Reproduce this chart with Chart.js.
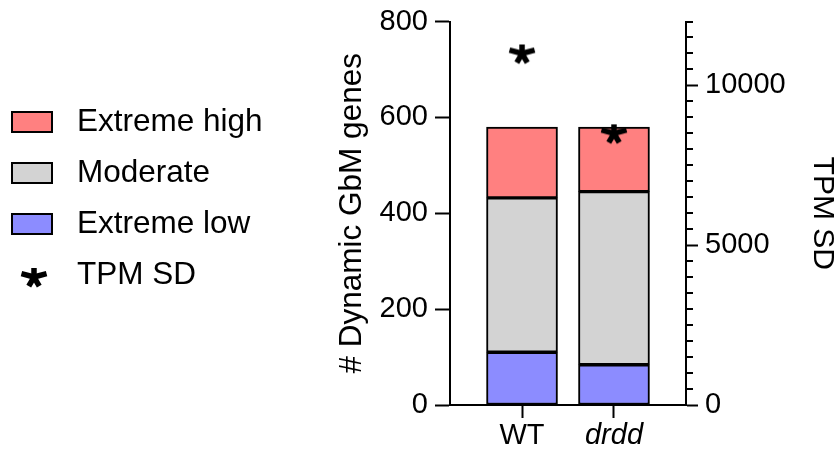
<!DOCTYPE html>
<html>
<head>
<meta charset="utf-8">
<script src="https://cdn.jsdelivr.net/npm/chart.js@4"></script>
<style>
  body { margin: 0; background: #fff; }
</style>
</head>
<body>
<canvas id="gbmChart" width="840" height="452"></canvas>
<script>
// categories and values
const categories = ['WT', 'drdd'];
const extremeLow = [110, 84];
const moderate = [322, 361];
const extremeHigh = [148, 135];
const tpmSd = [11000, 8500];

const geneTicks = [0, 200, 400, 600, 800];
const tpmTicks = [0, 5000, 10000];
const tpmMinorStep = 500;

const FONT = '"Liberation Sans", Arial, Helvetica, sans-serif';
const colors = {
    high: '#ff8080',
    moderate: '#d3d3d3',
    low: '#8c8cff'
};

// bold five-armed asterisk used as point style
const makeAsterisk = () => {
    const c = document.createElement('canvas');
    c.width = 32;
    c.height = 32;
    const g = c.getContext('2d');
    g.strokeStyle = '#000';
    g.lineWidth = 5.5;
    g.lineCap = 'butt';
    const cx = 16, cy = 16;
    // [angle, arm length]
    [[-90, 9], [-15, 13], [-165, 13], [60, 10.5], [120, 10.5]].forEach(([deg, len]) => {
        const a = deg * Math.PI / 180;
        g.beginPath();
        g.moveTo(cx, cy);
        g.lineTo(cx + Math.cos(a) * len, cy + Math.sin(a) * len);
        g.stroke();
    });
    return c;
};
const asterisk = makeAsterisk();

const toPoints = values => values.map((v, i) => ({ x: i, y: v }));

const barDataset = (label, values, color) => ({
    type: 'bar',
    label: label,
    data: toPoints(values),
    yAxisID: 'y',
    backgroundColor: color,
    borderColor: '#000',
    borderWidth: 2,
    borderSkipped: false,
    barThickness: 71
});

// legend drawn on the left side
const sideLegend = {
    id: 'sideLegend',
    afterDraw(chart) {
        const ctx = chart.ctx;
        const order = [2, 1, 0, 3];
        ctx.save();
        ctx.font = '31.5px ' + FONT;
        ctx.textBaseline = 'middle';
        order.forEach((idx, row) => {
            const ds = chart.data.datasets[idx];
            const cy = 122 + row * 51;
            if (ds.type === 'bar') {
                ctx.fillStyle = ds.backgroundColor;
                ctx.fillRect(12, cy - 10, 40, 20);
                ctx.strokeStyle = '#000';
                ctx.lineWidth = 2;
                ctx.strokeRect(12, cy - 10, 40, 20);
            } else {
                ctx.drawImage(asterisk, 34 - asterisk.width / 2, cy + 2 - asterisk.height / 2);
            }
            ctx.fillStyle = '#000';
            ctx.fillText(ds.label, 77, cy);
        });
        ctx.restore();
    }
};

// short minor ticks on the TPM axis
const minorTicks = {
    id: 'minorTicks',
    afterDraw(chart) {
        const scale = chart.scales.y1;
        const ctx = chart.ctx;
        ctx.save();
        ctx.strokeStyle = '#000';
        ctx.lineWidth = 2;
        for (let v = 0; v <= scale.max; v += tpmMinorStep) {
            if (tpmTicks.includes(v)) continue;
            const y = Math.round(scale.getPixelForValue(v));
            ctx.beginPath();
            ctx.moveTo(scale.left, y);
            ctx.lineTo(scale.left + 7, y);
            ctx.stroke();
        }
        ctx.restore();
    }
};

const axisGrid = len => ({
    display: true,
    offset: false,
    drawOnChartArea: false,
    drawTicks: true,
    tickLength: len,
    tickColor: '#000',
    tickWidth: 2
});

const axisBorder = { display: true, color: '#000', width: 2 };

new Chart(document.getElementById('gbmChart').getContext('2d'), {
    type: 'bar',
    data: {
        datasets: [
            barDataset('Extreme low', extremeLow, colors.low),
            barDataset('Moderate', moderate, colors.moderate),
            barDataset('Extreme high', extremeHigh, colors.high),
            {
                type: 'scatter',
                label: 'TPM SD',
                data: toPoints(tpmSd),
                yAxisID: 'y1',
                order: -1,
                pointStyle: asterisk,
                pointRadius: 12
            }
        ]
    },
    options: {
        responsive: false,
        animation: false,
        layout: { padding: { left: 330, right: 0, top: 10, bottom: 0 } },
        plugins: {
            legend: { display: false },
            tooltip: { enabled: false }
        },
        scales: {
            x: {
                type: 'linear',
                stacked: true,
                offset: false,
                min: -0.783,
                max: 1.783,
                grid: axisGrid(13),
                border: axisBorder,
                afterBuildTicks: scale => {
                    scale.ticks = categories.map((c, i) => ({ value: i }));
                },
                afterFit: scale => { scale.height = 47; },
                ticks: {
                    padding: 1,
                    color: '#000',
                    font: ctx => ({
                        family: FONT,
                        size: 29,
                        style: ctx.index === 1 ? 'italic' : 'normal'
                    }),
                    callback: value => categories[value]
                }
            },
            y: {
                position: 'left',
                stacked: true,
                min: 0,
                max: 800,
                grid: axisGrid(15),
                border: axisBorder,
                afterBuildTicks: scale => {
                    scale.ticks = geneTicks.map(v => ({ value: v }));
                },
                afterFit: scale => { scale.width = 120; },
                ticks: {
                    padding: 7,
                    color: '#000',
                    font: { family: FONT, size: 29, lineHeight: 1 },
                    callback: value => String(value)
                },
                title: {
                    display: true,
                    text: '# Dynamic GbM genes',
                    color: '#000',
                    font: { family: FONT, size: 31.5 },
                    padding: { top: 3, bottom: 3 }
                }
            },
            y1: {
                position: 'right',
                min: 0,
                max: 12000,
                grid: axisGrid(12),
                border: axisBorder,
                afterBuildTicks: scale => {
                    scale.ticks = tpmTicks.map(v => ({ value: v }));
                },
                afterFit: scale => { scale.width = 154; },
                ticks: {
                    padding: 7,
                    color: '#000',
                    font: { family: FONT, size: 29, lineHeight: 1 },
                    callback: value => String(value)
                },
                title: {
                    display: true,
                    text: 'TPM SD',
                    color: '#000',
                    font: { family: FONT, size: 30 },
                    padding: { top: 0, bottom: 0 }
                }
            }
        }
    },
    plugins: [sideLegend, minorTicks]
});
</script>
</body>
</html>
